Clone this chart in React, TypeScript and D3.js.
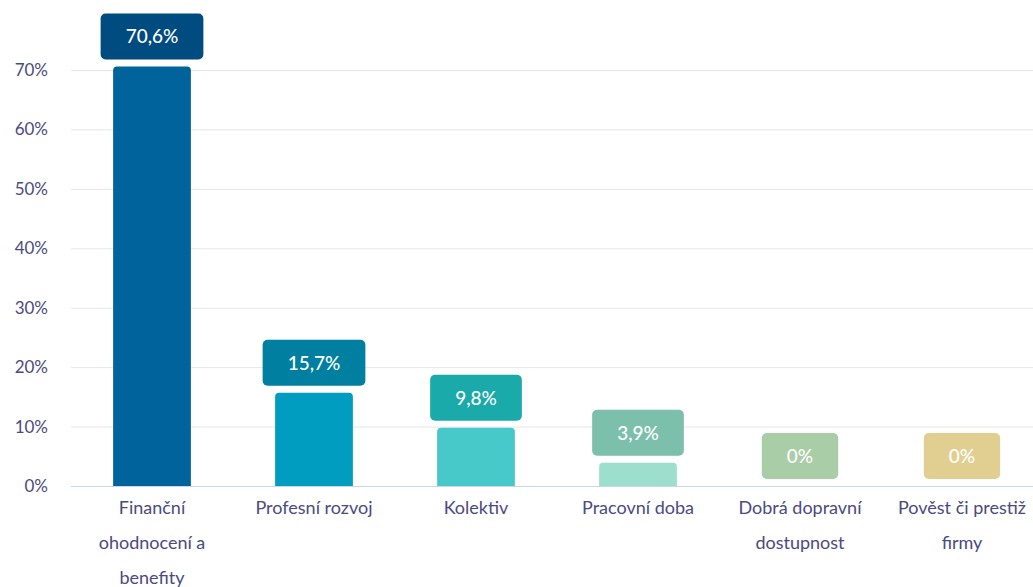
import { useEffect, useRef } from 'react';
import * as d3 from 'd3';

const categories = [
  'Finanční\nohodnocení a\nbenefity',
  'Profesní rozvoj',
  'Kolektiv',
  'Pracovní doba',
  'Dobrá dopravní\ndostupnost',
  'Pověst či prestiž\nfirmy',
];
const values = [70.6, 15.7, 9.8, 3.9, 0, 0];
const yTicks = [0, 10, 20, 30, 40, 50, 60, 70];

const barColors = ['#00639c', '#009dc0', '#48c9c9', '#9ddfcd', '#b5d8b2', '#e8d9a0'];
const boxColors = ['#004b80', '#007fa1', '#1aaaa9', '#7cbfab', '#a9cda6', '#e0cf91'];

const App = () => {
  const chartRef = useRef<HTMLDivElement>(null);

  useEffect(() => {
    drawChart();
  }, []);

  const drawChart = () => {
    const width = 1060;
    const height = 587;
    const font = 'Lato, "Open Sans", sans-serif';
    const textColor = '#4b4a7e';

    d3.select(chartRef.current).selectAll('*').remove();

    const svg = d3.select(chartRef.current)
      .append('svg')
      .attr('width', width)
      .attr('height', height)
      .style('display', 'block')
      .style('font-family', font);

    const x = d3.scaleBand()
      .domain(categories)
      .range([71, 1043])
      .paddingInner(0.52)
      .paddingOuter(0.26);

    const y = d3.scaleLinear()
      .domain([0, 70])
      .range([486, 70]);

    // gridlines
    svg.append('g')
      .selectAll('line')
      .data(yTicks.filter(d => d > 0))
      .enter().append('line')
      .attr('x1', 71)
      .attr('x2', width)
      .attr('y1', d => y(d) + 0.5)
      .attr('y2', d => y(d) + 0.5)
      .attr('stroke', '#e6e6e6')
      .attr('stroke-width', 1);

    // y labels
    svg.append('g')
      .selectAll('text')
      .data(yTicks)
      .enter().append('text')
      .attr('x', 48)
      .attr('y', d => y(d) + 6)
      .attr('text-anchor', 'end')
      .attr('font-size', 17)
      .attr('fill', textColor)
      .text(d => `${d}%`);

    // bars with rounded top
    const r = 4;
    svg.append('g')
      .selectAll('path')
      .data(values.map((v, i) => ({ v, i })).filter(d => d.v > 0))
      .enter().append('path')
      .attr('fill', d => barColors[d.i])
      .attr('d', d => {
        const x0 = x(categories[d.i]) as number;
        const w = x.bandwidth();
        const y0 = y(d.v);
        const y1 = y(0);
        const rr = Math.min(r, (y1 - y0));
        return `M${x0},${y1}V${y0 + rr}Q${x0},${y0} ${x0 + rr},${y0}H${x0 + w - rr}Q${x0 + w},${y0} ${x0 + w},${y0 + rr}V${y1}Z`;
      });

    // baseline
    svg.append('line')
      .attr('x1', 71)
      .attr('x2', width)
      .attr('y1', y(0) + 0.5)
      .attr('y2', y(0) + 0.5)
      .attr('stroke', '#ccd6eb');

    // value boxes
    const labels = svg.append('g')
      .selectAll('g')
      .data(values)
      .enter().append('g');

    labels.each(function (v, i) {
      const g = d3.select(this);
      const cx = (x(categories[i]) as number) + x.bandwidth() / 2;
      const bottom = y(v) - 7;
      const boxH = 46;
      const rect = g.append('rect')
        .attr('y', bottom - boxH)
        .attr('height', boxH)
        .attr('rx', 5)
        .attr('fill', boxColors[i]);
      const t = g.append('text')
        .attr('x', cx)
        .attr('y', bottom - boxH / 2 + 7)
        .attr('text-anchor', 'middle')
        .attr('font-size', 19)
        .attr('font-weight', 500)
        .attr('fill', '#ffffff')
        .text(`${String(v).replace('.', ',')}%`);
      const tw = (t.node() as SVGTextElement).getComputedTextLength();
      const bw = tw + 50;
      rect.attr('x', cx - bw / 2).attr('width', bw);
    });

    // x labels
    svg.append('g')
      .selectAll('text')
      .data(categories)
      .enter().append('text')
      .attr('text-anchor', 'middle')
      .attr('font-size', 18)
      .attr('fill', textColor)
      .each(function (d) {
        const cx = (x(d) as number) + x.bandwidth() / 2;
        d.split('\n').forEach((line, k) => {
          d3.select(this).append('tspan')
            .attr('x', cx)
            .attr('y', 514 + k * 35)
            .text(line);
        });
      });
  };

  return <div ref={chartRef} style={{ position: 'absolute', left: 0, top: 0 }}></div>;
};

export default App;
